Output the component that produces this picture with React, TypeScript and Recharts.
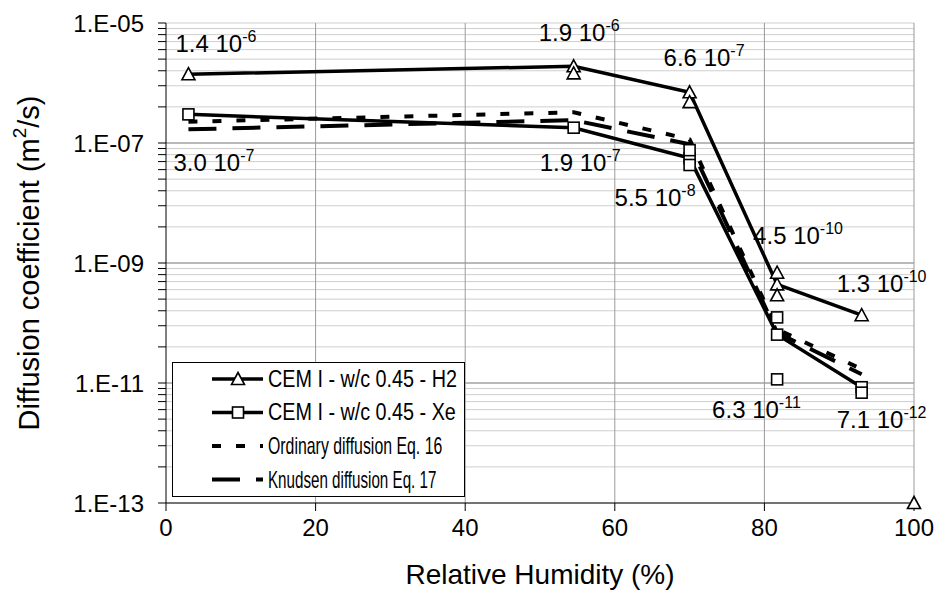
import {
  ComposedChart, Line, Scatter, XAxis, YAxis, CartesianGrid, ReferenceLine, LabelList, Label,
} from "recharts";

// relative humidity (%) of the measured points
const rh = [3, 54.5, 70, 81.7, 93];
const h2 = [1.4e-6, 1.9e-6, 7.0e-7, 4.4e-10, 1.35e-10];
const xe = [3.0e-7, 1.8e-7, 5.6e-8, 6.4e-11, 8.5e-12];
const ordinary = [2.26e-7, 3.25e-7, 1.15e-7, 7.9e-11, 1.7e-11];
const knudsen = [1.69e-7, 2.4e-7, 9.5e-8, 6.9e-11, 1.4e-11];

// single measurements that are not on the mean line
const h2ExtraRh = [54.5, 70, 81.7, 81.7, 100];
const h2Extra = [1.45e-6, 4.8e-7, 6.9e-10, 2.9e-10, 1e-13];
const xeExtraRh = [70, 70, 81.7, 81.7, 93];
const xeExtra = [7.6e-8, 4.3e-8, 1.24e-10, 1.15e-11, 6.9e-12];

const h2Mantissa = ["1.4", "1.9", "6.6", "4.5", "1.3"];
const h2Exponent = ["-6", "-6", "-7", "-10", "-10"];
const xeMantissa = ["3.0", "1.9", "5.5", "6.3", "7.1"];
const xeExponent = ["-7", "-7", "-8", "-11", "-12"];

const seriesNames = ["CEM I - w/c 0.45 - H2", "CEM I - w/c 0.45 - Xe", "Ordinary diffusion Eq. 16", "Knudsen diffusion Eq. 17"];

const xTicks = [0, 20, 40, 60, 80, 100];
const gridBases = [1e-13, 1e-11, 1e-9, 1e-7];
const gridSteps = [1, 4, 9, 16, 25, 36, 49, 64, 81];
const yMajorTicks = [1e-13, 1e-11, 1e-9, 1e-7, 1e-5];
const yMajorLabels = ["1.E-13", "1.E-11", "1.E-09", "1.E-07", "1.E-05"];
const darkLines = [1e-11, 1e-9, 1e-7];

const FONT = "'Liberation Sans', Arial, sans-serif";
const FS = 24;
const TITLE_FS = 28;
const LEGEND_FS = 23;

const yTicks = gridBases.flatMap((b) => gridSteps.map((k) => b * k)).concat([1e-5]);

const toRows = (xs: number[], ys: number[]) => xs.map((x, i) => ({ rh: x, d: ys[i] }));

const h2Data = toRows(rh, h2);
const xeData = toRows(rh, xe);
const ordData = toRows(rh, ordinary);
const knuData = toRows(rh, knudsen);
const h2ExtraData = toRows(h2ExtraRh, h2Extra);
const xeExtraData = toRows(xeExtraRh, xeExtra);

// label position relative to its point: [dx, dy] to text start / baseline
const h2LabelOffsets = [[-13, -22], [-35, -25], [-26, -26], [-24, -40], [-25, -23]];
const xeLabelOffsets = [[-15, 57], [-34, 43], [-75, 48], [-65, 83], [-25, 41]];

function fmtY(v: number) {
  const i = yMajorTicks.findIndex((m) => Math.abs(Math.log10(v) - Math.log10(m)) < 1e-6);
  return i >= 0 ? yMajorLabels[i] : "";
}

function Tri({ cx, cy }: { cx: number; cy: number }) {
  const s = 6.5;
  return (
    <path
      d={`M${cx},${cy - s} L${cx + s},${cy + s * 0.85} L${cx - s},${cy + s * 0.85} Z`}
      fill="#fff" stroke="#000" strokeWidth={1.6}
    />
  );
}

function Sq({ cx, cy }: { cx: number; cy: number }) {
  return <rect x={cx - 5.5} y={cy - 5.5} width={11} height={11} fill="#fff" stroke="#000" strokeWidth={1.6} />;
}

function PointLabel(props: any, mant: string[], exp: string[], offs: number[][]) {
  const { x, y, index } = props;
  if (x == null || y == null) return null;
  const [dx, dy] = offs[index];
  return (
    <text x={x + dx} y={y + dy} fontFamily={FONT} fontSize={FS} fill="#000">
      {mant[index]} 10
      <tspan dy={-10} fontSize={16}>{exp[index]}</tspan>
    </text>
  );
}

function LegendBox() {
  const dashes = [undefined, undefined, "9 15", "28 16"];
  const marks = ["tri", "sq", "", ""];
  // horizontal squeeze of each entry, the legend font is condensed
  const squeeze = [0.86, 0.86, 0.69, 0.66];
  return (
    <div
      style={{
        position: "absolute", left: 172, top: 362, width: 293, height: 135,
        border: "1px solid #000", background: "#fff", boxSizing: "border-box",
      }}
    >
      <svg width={291} height={133} style={{ display: "block" }}>
        {seriesNames.map((name, i) => {
          const y = 16 + i * 33.5;
          return (
            <g key={name}>
              <line x1={39} x2={90} y1={y} y2={y} stroke="#000" strokeWidth={dashes[i] ? 4 : 3.5} strokeDasharray={dashes[i]} />
              {marks[i] === "tri" && <Tri cx={65} cy={y} />}
              {marks[i] === "sq" && <Sq cx={65} cy={y} />}
              <text
                transform={`translate(95 ${y}) scale(${squeeze[i]} 1)`}
                dominantBaseline="central" fontFamily={FONT} fontSize={LEGEND_FS} fill="#000"
              >
                {name}
              </text>
            </g>
          );
        })}
      </svg>
    </div>
  );
}

export default function App() {
  return (
    <div style={{ position: "absolute", left: 0, top: 0, width: 940, height: 594, background: "#fff" }}>
      <ComposedChart width={940} height={594} margin={{ top: 23, right: 26, bottom: 11, left: 66 }}>
        <CartesianGrid horizontal vertical={false} stroke="#cfcfcf" strokeWidth={1} />
        {darkLines.map((v) => (
          <ReferenceLine key={`h${v}`} y={v} stroke="#8c8c8c" strokeWidth={1} />
        ))}
        {xTicks.slice(1).map((v) => (
          <ReferenceLine key={`v${v}`} x={v} stroke="#9a9a9a" strokeWidth={1} />
        ))}
        <XAxis
          dataKey="rh"
          type="number"
          domain={[0, 100]}
          ticks={xTicks}
          height={80}
          tickSize={8}
          tickMargin={8}
          stroke="#000"
          tick={{ fontSize: FS, fill: "#000", fontFamily: FONT }}
          allowDuplicatedCategory={false}
        >
          <Label
            content={(p: any) => {
              const vb = p.viewBox;
              return (
                <text x={vb.x + vb.width / 2} y={vb.y + 81} textAnchor="middle" fontFamily={FONT} fontSize={TITLE_FS} fill="#000">
                  Relative Humidity (%)
                </text>
              );
            }}
          />
        </XAxis>
        <YAxis
          dataKey="d"
          type="number"
          scale="log"
          domain={[1e-13, 1e-5]}
          ticks={yTicks}
          interval={0}
          tickFormatter={fmtY}
          width={100}
          tickSize={8}
          tickMargin={14}
          stroke="#000"
          tick={{ fontSize: FS, fill: "#000", fontFamily: FONT }}
        >
          <Label
            content={(p: any) => {
              const vb = p.viewBox;
              const cx = vb.x - 37;
              const cy = vb.y + vb.height / 2;
              return (
                <text
                  x={cx} y={cy} transform={`rotate(-90 ${cx} ${cy})`} textAnchor="middle"
                  dominantBaseline="central" fontFamily={FONT} fontSize={29} fill="#000"
                >
                  Diffusion coefficient (m<tspan dy={-10} fontSize={19}>2</tspan>
                  <tspan dy={10}>/s)</tspan>
                </text>
              );
            }}
          />
        </YAxis>

        <Line data={ordData} dataKey="d" name={seriesNames[2]} stroke="#000" strokeWidth={4} strokeDasharray="9 15" dot={false} isAnimationActive={false} />
        <Line data={knuData} dataKey="d" name={seriesNames[3]} stroke="#000" strokeWidth={4} strokeDasharray="28 16" dot={false} isAnimationActive={false} />
        <Line
          data={xeData} dataKey="d" name={seriesNames[1]} stroke="#000" strokeWidth={3.5} isAnimationActive={false}
          dot={(p: any) => <Sq key={`xe${p.index}`} cx={p.cx} cy={p.cy} />}
        >
          <LabelList dataKey="d" content={(p: any) => PointLabel(p, xeMantissa, xeExponent, xeLabelOffsets)} />
        </Line>
        <Line
          data={h2Data} dataKey="d" name={seriesNames[0]} stroke="#000" strokeWidth={3.5} isAnimationActive={false}
          dot={(p: any) => <Tri key={`h2${p.index}`} cx={p.cx} cy={p.cy} />}
        >
          <LabelList dataKey="d" content={(p: any) => PointLabel(p, h2Mantissa, h2Exponent, h2LabelOffsets)} />
        </Line>
        <Scatter data={xeExtraData} dataKey="d" isAnimationActive={false} shape={(p: any) => <Sq cx={p.cx} cy={p.cy} />} />
        <Scatter data={h2ExtraData} dataKey="d" isAnimationActive={false} shape={(p: any) => <Tri cx={p.cx} cy={p.cy} />} />
      </ComposedChart>
      <LegendBox />
    </div>
  );
}
